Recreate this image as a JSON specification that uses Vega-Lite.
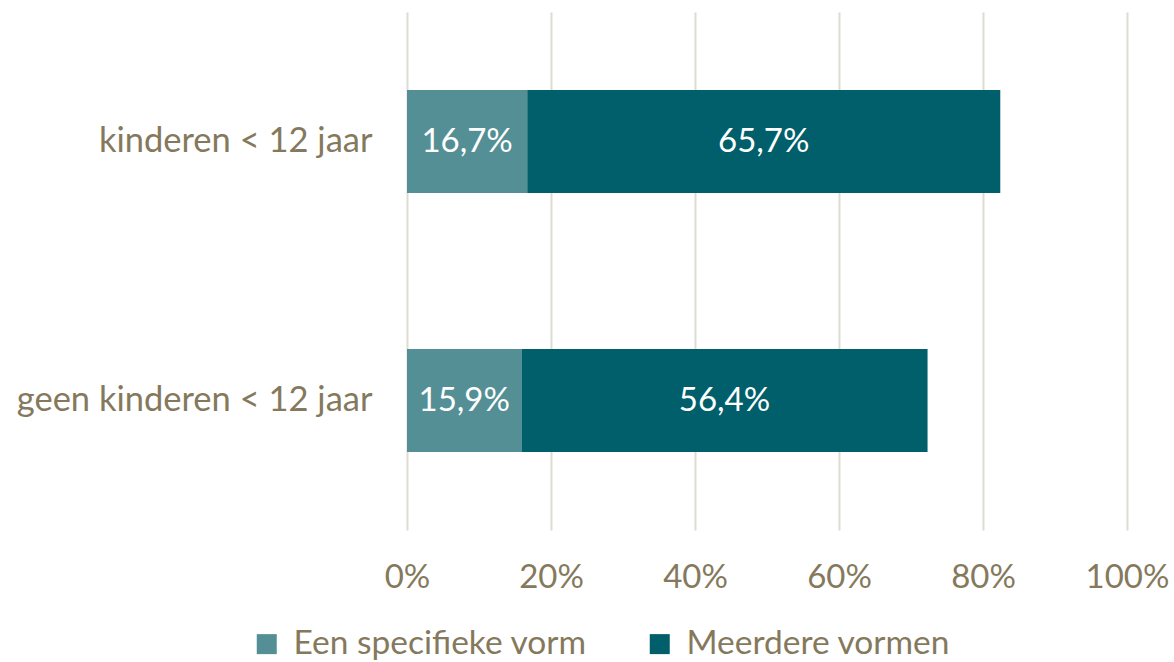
{
  "$schema": "https://vega.github.io/schema/vega-lite/v6.json",
  "autosize": {"type": "none"},
  "width": 720,
  "height": 518,
  "padding": {"left": 407, "top": 12, "right": 47, "bottom": 132},
  "background": "white",
  "config": {
    "locale": {"number": {"decimal": ",", "thousands": ".", "grouping": [3], "currency": ["€", ""]}},
    "view": {"stroke": null},
    "font": "Lato"
  },
  "data": {
    "values": [
      {"groep": "kinderen < 12 jaar", "vorm": "Een specifieke vorm", "waarde": 0.167},
      {"groep": "kinderen < 12 jaar", "vorm": "Meerdere vormen", "waarde": 0.657},
      {"groep": "geen kinderen < 12 jaar", "vorm": "Een specifieke vorm", "waarde": 0.159},
      {"groep": "geen kinderen < 12 jaar", "vorm": "Meerdere vormen", "waarde": 0.564}
    ]
  },
  "transform": [
    {"stack": "waarde", "groupby": ["groep"], "sort": [{"field": "vorm", "order": "ascending"}], "as": ["x0", "x1"]},
    {"calculate": "(datum.x0 + datum.x1) / 2", "as": "mid"}
  ],
  "encoding": {
    "y": {
      "field": "groep",
      "type": "nominal",
      "sort": ["kinderen < 12 jaar", "geen kinderen < 12 jaar"],
      "scale": {"paddingInner": 0.602, "paddingOuter": 0.301},
      "axis": {
        "title": null,
        "domain": false,
        "ticks": false,
        "labelFontSize": 34.5,
        "labelColor": "#85795d",
        "labelPadding": 35,
        "labelLimit": 450
      }
    }
  },
  "layer": [
    {
      "mark": {"type": "bar"},
      "encoding": {
        "x": {
          "field": "x0",
          "type": "quantitative",
          "scale": {"domain": [0, 1], "nice": false},
          "axis": {
            "title": null,
            "format": "%",
            "values": [0, 0.2, 0.4, 0.6, 0.8, 1],
            "domain": false,
            "ticks": false,
            "grid": true,
            "gridColor": "#dedbd2",
            "gridWidth": 2,
            "labelFontSize": 33,
            "labelColor": "#85795d",
            "labelPadding": 31,
            "labelFlush": false
          }
        },
        "x2": {"field": "x1"},
        "color": {
          "field": "vorm",
          "type": "nominal",
          "scale": {"domain": ["Een specifieke vorm", "Meerdere vormen"], "range": ["#558f96", "#005f6b"]},
          "legend": {
            "title": null,
            "orient": "none",
            "direction": "horizontal",
            "legendX": -157,
            "legendY": 615,
            "symbolType": "square",
            "symbolSize": 400,
            "symbolStrokeWidth": 0,
            "symbolOpacity": 1,
            "labelFontSize": 33.5,
            "labelColor": "#85795d",
            "labelOffset": 10,
            "columnPadding": 56,
            "labelLimit": 450
          }
        }
      }
    },
    {
      "mark": {"type": "text", "color": "white", "fontSize": 33, "align": "center", "baseline": "middle"},
      "encoding": {
        "x": {"field": "mid", "type": "quantitative"},
        "text": {"field": "waarde", "type": "quantitative", "format": ".1%"}
      }
    }
  ]
}
